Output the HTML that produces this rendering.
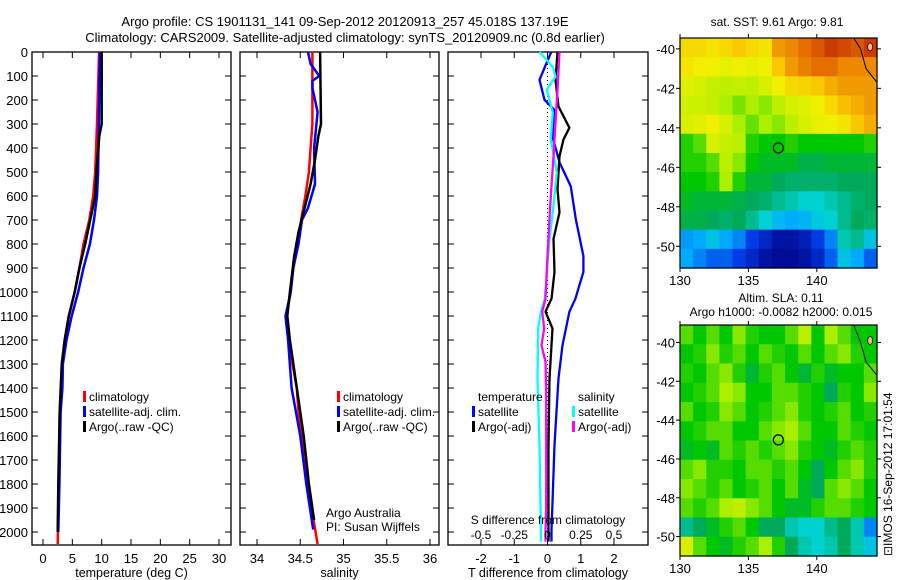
<!DOCTYPE html>
<html><head><meta charset="utf-8"><style>
html,body{margin:0;padding:0;background:#fff;}
svg{display:block;font-family:"Liberation Sans",sans-serif;}
</style></head><body>
<svg id="fig" width="900" height="580" viewBox="0 0 900 580" xmlns="http://www.w3.org/2000/svg">
<text x="345" y="26" font-size="13" text-anchor="middle">Argo profile: CS 1901131_141 09-Sep-2012 20120913_257 45.018S 137.19E</text>
<text x="345" y="42" font-size="13" text-anchor="middle">Climatology: CARS2009. Satellite-adjusted climatology: synTS_20120909.nc (0.8d earlier)</text>
<text x="777" y="26" font-size="12" text-anchor="middle">sat. SST: 9.61 Argo: 9.81</text>
<text x="781" y="302" font-size="12" text-anchor="middle">Altim. SLA: 0.11</text>
<text x="781" y="316" font-size="12" text-anchor="middle">Argo h1000: -0.0082 h2000: 0.015</text>
<text transform="translate(892,556) rotate(-90)" font-size="12">⊡IMOS 16-Sep-2012 17:01:54</text>
</svg>
<script>
// ---------- data ----------
const depthTicks=[0,100,200,300,400,500,600,700,800,900,1000,1100,1200,1300,1400,1500,1600,1700,1800,1900,2000];
const tempTicks=[0,5,10,15,20,25,30];
const salTicks=[34,34.5,35,35.5,36];
const tdiffTicks=[-2,-1,0,1,2];
const sdiffTicks=[-0.5,-0.25,0,0.25,0.5];
const sdiffTickLabels=["-0.5","-0.25","0","0.25","0.5"];
// temperature profiles [depth, T]
const tempClimDepth=[0,300,500,600,700,800,900,1000,1100,1200,1300,1500,1800,2050];
const tempClim=[9.56,9.2,8.9,8.55,7.9,6.9,6.2,5.4,4.4,3.7,3.2,2.85,2.7,2.5];
const tempSatDepth=[0,500,600,700,800,900,1000,1100,1200,1300,1400,1500,1800,2000];
const tempSat=[9.7,9.4,9.2,8.7,8.0,6.9,6.0,4.9,4.0,3.4,3.3,3.0,2.8,2.6];
const tempArgoDepth=[0,300,350,500,600,700,800,900,1000,1100,1200,1300,1500,1800,2000];
const tempArgo=[10.0,10.0,9.6,9.1,8.9,8.05,7.2,6.2,5.4,4.4,3.7,3.2,2.85,2.6,2.5];
// salinity profiles
const salClimDepth=[0,300,400,500,600,700,800,900,1000,1100,1200,1300,1400,1500,1700,1900,2050];
const salClim=[34.64,34.64,34.62,34.6,34.56,34.51,34.47,34.42,34.39,34.34,34.37,34.41,34.46,34.48,34.56,34.63,34.7];
const salSatDepth=[0,50,100,120,150,250,400,550,650,700,800,900,1000,1100,1200,1400,1600,1800,1990];
const salSat=[34.59,34.62,34.72,34.64,34.64,34.7,34.66,34.67,34.59,34.52,34.48,34.42,34.39,34.33,34.36,34.4,34.5,34.57,34.65];
const salArgoDepth=[0,300,350,450,550,650,750,850,1000,1100,1200,1400,1600,1800,1950];
const salArgo=[34.73,34.74,34.71,34.67,34.62,34.55,34.48,34.43,34.38,34.35,34.38,34.46,34.54,34.6,34.66];
// difference profiles
const dTSatDepth=[0,116,199,240,352,460,560,696,850,916,1028,1082,1222,1360,1637,1993,2040];
const dTSat=[0.11,-0.24,-0.09,0.2,0.15,0.36,0.7,0.85,1.08,1.08,0.84,0.66,0.45,0.33,0.21,0.12,0.12];
const dTArgoDepth=[0,116,227,316,364,434,572,668,779,916,1028,1082,1152,1360,1637,1993,2040];
const dTArgo=[0.3,0.24,0.33,0.66,0.48,0.36,0.3,0.36,0.18,0.21,0.12,-0.06,0.15,0.06,0.03,0.03,0.03];
const dSSatDepth=[0,62,103,157,253,364,502,641,779,916,1028,1082,1152,1360,1637,1993,2040];
const dSSat=[-0.06,0.04,0.06,-0.005,0.04,0.025,0.07,0.045,0.015,-0.005,-0.02,-0.05,-0.07,-0.075,-0.06,-0.05,-0.05];
const dSArgoDepth=[0,157,294,434,641,850,1028,1082,1152,1222,1290,1430,1637,1911,1993,2040];
const dSArgo=[0.09,0.075,0.06,0.045,0.02,0,-0.015,-0.04,-0.025,-0.045,-0.015,-0.01,-0.01,-0.01,-0.015,-0.015];
// maps (normalised colour level 0..1), rows north->south
const sstGrid=[
[.72,.72,.70,.72,.75,.72,.70,.80,.82,.85,.88,.92,.90,.88,.92],
[.70,.68,.68,.67,.68,.67,.68,.75,.80,.83,.85,.85,.82,.82,.82],
[.66,.65,.63,.62,.63,.62,.65,.68,.72,.73,.75,.78,.80,.80,.80],
[.64,.64,.63,.60,.57,.60,.58,.62,.65,.66,.68,.72,.76,.78,.80],
[.65,.66,.68,.65,.60,.56,.60,.58,.62,.65,.67,.68,.70,.75,.78],
[.52,.55,.65,.63,.62,.52,.50,.50,.52,.50,.50,.50,.50,.50,.52],
[.52,.52,.55,.62,.58,.50,.48,.48,.48,.46,.46,.47,.47,.47,.47],
[.50,.50,.52,.60,.52,.47,.47,.45,.44,.44,.44,.44,.45,.45,.45],
[.48,.47,.47,.47,.46,.45,.44,.42,.40,.38,.38,.40,.42,.44,.45],
[.46,.46,.45,.44,.45,.42,.38,.33,.30,.32,.36,.38,.42,.45,.44],
[.28,.30,.35,.30,.25,.15,.10,.05,.05,.08,.15,.25,.40,.42,.35],
[.30,.25,.20,.20,.15,.10,.05,.03,.03,.05,.10,.20,.35,.30,.20]];
const slaGrid=[
[.55,.50,.55,.50,.58,.52,.50,.50,.55,.62,.50,.60,.55,.50,.50],
[.50,.52,.58,.52,.55,.50,.55,.52,.50,.55,.50,.55,.58,.52,.50],
[.52,.50,.55,.58,.52,.47,.52,.55,.50,.47,.52,.48,.50,.50,.55],
[.50,.52,.55,.60,.58,.50,.50,.55,.55,.52,.50,.45,.52,.50,.58],
[.55,.50,.52,.58,.55,.50,.52,.55,.58,.52,.50,.52,.55,.50,.52],
[.50,.52,.55,.55,.50,.50,.55,.58,.60,.55,.50,.50,.55,.52,.50],
[.48,.50,.48,.55,.52,.55,.52,.55,.58,.52,.50,.48,.52,.55,.52],
[.55,.58,.52,.52,.50,.55,.55,.52,.55,.50,.45,.50,.55,.58,.52],
[.58,.55,.52,.55,.50,.52,.55,.50,.55,.48,.45,.55,.58,.55,.50],
[.55,.52,.55,.60,.62,.58,.55,.50,.48,.48,.52,.55,.55,.52,.50],
[.42,.45,.48,.52,.55,.50,.45,.45,.40,.38,.38,.42,.45,.40,.25],
[.65,.55,.50,.48,.52,.55,.60,.52,.45,.40,.38,.40,.45,.40,.35]];
const argoLon=137.19, argoLat=-45.018;
const lonTicks=[130,135,140];
const latTicks=[-40,-42,-44,-46,-48,-50];

// ---------- drawing ----------
const NS="http://www.w3.org/2000/svg";
const svg=document.getElementById('fig');
function el(tag,attrs,parent){const e=document.createElementNS(NS,tag);for(const k in attrs)e.setAttribute(k,attrs[k]);(parent||svg).appendChild(e);return e;}
function txt(s,x,y,size,anchor,parent){const t=el('text',{x:x,y:y,'font-size':size,'text-anchor':anchor||'middle'},parent);t.textContent=s;return t;}
const Y0=52,Y1=545,DMAX=2054;
const yD=d=>Y0+(Y1-Y0)*d/DMAX;
function scale(v0,v1,p0,p1){return v=>p0+(v-v0)*(p1-p0)/(v1-v0);}

function panel(name,L,R,xs,ticks,labels,xlabel,leftLabels){
  const g=el('g',{});
  
  
  const fr=el('rect',{x:L,y:Y0,width:R-L,height:Y1-Y0,fill:'none',stroke:'#000','stroke-width':1.3},g);
  
  
  depthTicks.forEach(d=>{const y=yD(d);el('line',{x1:L,x2:L+6,y1:y,y2:y,stroke:'#000'},g);el('line',{x1:R,x2:R-6,y1:y,y2:y,stroke:'#000'},g);
    if(leftLabels){const t=txt(String(d),28,y+5,13,'end',g);}});
  ticks.forEach((v,i)=>{const x=xs(v);el('line',{x1:x,x2:x,y1:Y1,y2:Y1-6,stroke:'#000'},g);el('line',{x1:x,x2:x,y1:Y0,y2:Y0+6,stroke:'#000'},g);
    const t=txt(labels[i],x,Y1+18,13,'middle',g);});
  const xl=txt(xlabel,(L+R)/2,Y1+32,12.5,'middle',g);
  
  
  return g;
}
function line(g,xs,depths,vals,color,w,name){
  const pts=depths.map((d,i)=>xs(vals[i]).toFixed(1)+','+yD(d).toFixed(1)).join(' ');
  const p=el('polyline',{points:pts,fill:'none',stroke:color,'stroke-width':w,'stroke-linejoin':'round'},g);
  
  
}
function legend(g,x,y,items){
  items.forEach((it,i)=>{
    if(it[1]){el('rect',{x:x,y:y+i*15-10,width:3,height:11,fill:it[1]},g);}
    const t=txt(it[0],x+6,y+i*15,12,'start',g);
    
    
  });
}
// panel 1
const xT=scale(0,30,43,219);
const g1=panel('temperature-panel',32,231,xT,tempTicks,tempTicks.map(String),'temperature (deg C)',true);
line(g1,xT,tempClimDepth,tempClim,'#f00',2.5,'temp-climatology-line');
line(g1,xT,tempSatDepth,tempSat,'#00f',2.5,'temp-satellite-line');
line(g1,xT,tempArgoDepth,tempArgo,'#000',2.5,'temp-argo-line');
legend(g1,83,401,[['climatology','#f00'],['satellite-adj. clim.','#00f'],['Argo(..raw -QC)','#000']]);
// panel 2
const xS=scale(34,36,257,430);
const g2=panel('salinity-panel',240,439,xS,salTicks,salTicks.map(String),'salinity',false);
line(g2,xS,salClimDepth,salClim,'#f00',2.5,'sal-climatology-line');
line(g2,xS,salSatDepth,salSat,'#00f',2.5,'sal-satellite-line');
line(g2,xS,salArgoDepth,salArgo,'#000',2.5,'sal-argo-line');
legend(g2,337,401,[['climatology','#f00'],['satellite-adj. clim.','#00f'],['Argo(..raw -QC)','#000']]);
const aa=txt('Argo Australia',326,517,12,'start',g2);
const pi=txt('PI: Susan Wijffels',326,531,12,'start',g2);
// panel 3
const xD=scale(-2,2,481,614);
const xSD=v=>xD(v*4);
const g3=panel('difference-panel',448,648,xD,tdiffTicks,tdiffTicks.map(String),'T difference from climatology',false);
el('line',{x1:xD(0),x2:xD(0),y1:Y0,y2:Y1,stroke:'#000','stroke-dasharray':'1,3'},g3);
line(g3,xD,dTSatDepth,dTSat,'#00f',2.3,'tdiff-satellite-line');
line(g3,xD,dTArgoDepth,dTArgo,'#000',2.3,'tdiff-argo-line');
line(g3,xSD,dSSatDepth,dSSat,'#0ff',2.3,'sdiff-satellite-line');
line(g3,xSD,dSArgoDepth,dSArgo,'#f0f',2.3,'sdiff-argo-line');
legend(g3,472,401,[['temperature',null],['satellite','#00f'],['Argo(-adj)','#000']]);
legend(g3,572,401,[['salinity',null],['satellite','#0ff'],['Argo(-adj)','#f0f']]);
const st=txt('S difference from climatology',548,524,12,'middle',g3);
sdiffTicks.forEach((v,i)=>{const t=txt(sdiffTickLabels[i],xSD(v),539,12,'middle',g3);});

// maps
const stops=[[0,[0,0,130]],[.15,[0,60,230]],[.3,[0,170,255]],[.38,[0,210,210]],[.45,[0,170,90]],[.5,[0,200,0]],[.6,[170,240,0]],[.68,[240,240,0]],[.75,[250,200,0]],[.85,[230,110,0]],[1,[170,0,0]]];
function cmap(v){for(let i=1;i<stops.length;i++){if(v<=stops[i][0]){const a=stops[i-1],b=stops[i],f=(v-a[0])/(b[0]-a[0]);return 'rgb('+a[1].map((c,k)=>Math.round(c+(b[1][k]-c)*f)).join(',')+')';}}return 'rgb(170,0,0)';}
function map(name,grid,L,T,R,B,latTop,latBot){
  const g=el('g',{});
  
  
  const lonX=scale(130,144.4,L,R), latY=scale(latTop,latBot,T,B);
  const rows=grid.length, cols=grid[0].length;
  const cw=(R-L)/cols, ch=(B-T)/rows;
  grid.forEach((row,r)=>row.forEach((v,c)=>{
    const cell=el('rect',{x:(L+c*cw).toFixed(2),y:(T+r*ch).toFixed(2),width:(cw+0.6).toFixed(2),height:(ch+0.6).toFixed(2),fill:cmap(v)},g);
    
    
  }));
  el('path',{d:`M${lonX(142.7)},${T} L${lonX(143.2)},${latY(-40)} L${lonX(143.6)},${latY(-41)} L${lonX(144.4)},${latY(-41.7)}`,fill:'none',stroke:'#000','stroke-width':1},g);
  el('ellipse',{cx:lonX(143.9),cy:latY(-39.9),rx:2.5,ry:4,fill:'#f4b88a',stroke:'#000','stroke-width':0.7},g);
  el('rect',{x:L,y:T,width:R-L,height:B-T,fill:'none',stroke:'#000','stroke-width':1.2},g);
  lonTicks.forEach(v=>{const x=lonX(v);el('line',{x1:x,x2:x,y1:B,y2:B+4,stroke:'#000'},g);el('line',{x1:x,x2:x,y1:T,y2:T-4,stroke:'#000'},g);
    const t=txt(String(v),x,B+17,13,'middle',g);});
  latTicks.forEach(v=>{const y=latY(v);el('line',{x1:L,x2:L-4,y1:y,y2:y,stroke:'#000'},g);el('line',{x1:R,x2:R+4,y1:y,y2:y,stroke:'#000'},g);
    const t=txt(String(v),L-5,y+5,13,'end',g);});
  const m=el('circle',{cx:lonX(argoLon),cy:latY(argoLat),r:5,fill:'none',stroke:'#000','stroke-width':1.2},g);
  
  
}
map('sst-map',sstGrid,680,38,877,268,-39.45,-51.1);
map('sla-map',slaGrid,680,325,877,556,-39.1,-51.0);
</script>
</body></html>
